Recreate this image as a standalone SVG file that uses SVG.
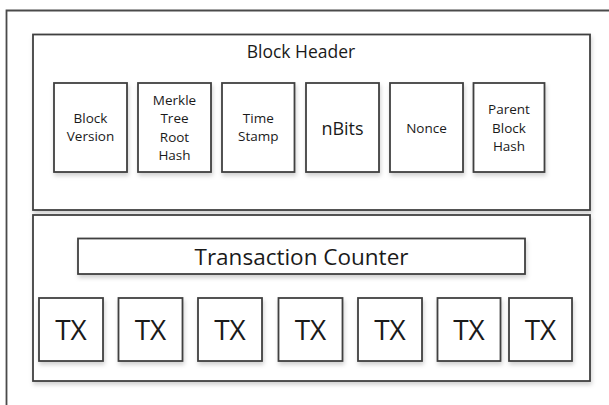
<svg xmlns="http://www.w3.org/2000/svg" width="609" height="405" viewBox="0 0 609 405">
  <defs>
    <filter id="shadow" x="-10%" y="-10%" width="120%" height="130%">
      <feDropShadow dx="1" dy="3" stdDeviation="2" flood-color="#000" flood-opacity="0.18"/>
    </filter>
  </defs>
  <style>
    .frame { fill: #fff; stroke: #4a4a4a; stroke-width: 1.8; }
    .box { fill: #fff; stroke: #404040; stroke-width: 1.8; filter: url(#shadow); }
    text { font-family: "Open Sans", "Noto Sans", "Liberation Sans", sans-serif; fill: #1a1a1a; text-anchor: middle; dominant-baseline: central; }
    .title { font-size: 17.5px; }
    .field { font-size: 13.5px; }
    .big { font-size: 18px; }
    .counter { font-size: 22.5px; }
    .tx { font-size: 28px; }
  </style>

  <rect width="609" height="405" fill="#fff"/>

  <!-- outer block frame (continues past the canvas edge) -->
  <path class="frame" d="M6.5,405 V10.5 H609" fill="none"/>

  <!-- block header section -->
  <g id="block-header">
    <rect class="box" x="33" y="34.5" width="557" height="175.5"/>
    <text class="title" x="301" y="51">Block Header</text>
  </g>

  <g id="block-version">
    <rect class="box" x="54" y="83" width="73" height="89"/>
    <text class="field" x="90.5" y="118">Block</text>
    <text class="field" x="90.5" y="136">Version</text>
  </g>

  <g id="merkle-root">
    <rect class="box" x="138" y="83" width="73" height="89"/>
    <text class="field" x="174.5" y="100">Merkle</text>
    <text class="field" x="174.5" y="118.3">Tree</text>
    <text class="field" x="174.5" y="136.6">Root</text>
    <text class="field" x="174.5" y="155">Hash</text>
  </g>

  <g id="time-stamp">
    <rect class="box" x="222" y="83" width="72.5" height="89"/>
    <text class="field" x="258.3" y="118">Time</text>
    <text class="field" x="258.3" y="136">Stamp</text>
  </g>

  <g id="nbits">
    <rect class="box" x="306" y="83" width="73" height="89"/>
    <text class="big" x="342.5" y="127.5">nBits</text>
  </g>

  <g id="nonce">
    <rect class="box" x="390" y="83" width="73" height="89"/>
    <text class="field" x="426.5" y="127.5">Nonce</text>
  </g>

  <g id="parent-hash">
    <rect class="box" x="473.5" y="83" width="71" height="89"/>
    <text class="field" x="509" y="108.5">Parent</text>
    <text class="field" x="509" y="127.5">Block</text>
    <text class="field" x="509" y="146">Hash</text>
  </g>

  <!-- transactions section -->
  <g id="block-body">
    <rect class="box" x="33" y="215" width="557" height="166"/>
  </g>

  <g id="transaction-counter">
    <rect class="box" x="78" y="238.5" width="447" height="35.5"/>
    <text class="counter" x="301.5" y="256">Transaction Counter</text>
  </g>

  <g id="tx-1">
    <rect class="box" x="39" y="298" width="64" height="63"/>
    <text class="tx" x="71" y="329">TX</text>
  </g>
  <g id="tx-2">
    <rect class="box" x="118.5" y="298" width="64" height="63"/>
    <text class="tx" x="150.5" y="329">TX</text>
  </g>
  <g id="tx-3">
    <rect class="box" x="198" y="298" width="64" height="63"/>
    <text class="tx" x="230" y="329">TX</text>
  </g>
  <g id="tx-4">
    <rect class="box" x="278.5" y="298" width="64" height="63"/>
    <text class="tx" x="310.5" y="329">TX</text>
  </g>
  <g id="tx-5">
    <rect class="box" x="358" y="298" width="64" height="63"/>
    <text class="tx" x="390" y="329">TX</text>
  </g>
  <g id="tx-6">
    <rect class="box" x="437.5" y="298" width="63" height="63"/>
    <text class="tx" x="469" y="329">TX</text>
  </g>
  <g id="tx-7">
    <rect class="box" x="509" y="298" width="63" height="63"/>
    <text class="tx" x="540.5" y="329">TX</text>
  </g>

  <!-- no connectors in this diagram -->
  <g id="connectors"/>
</svg>
